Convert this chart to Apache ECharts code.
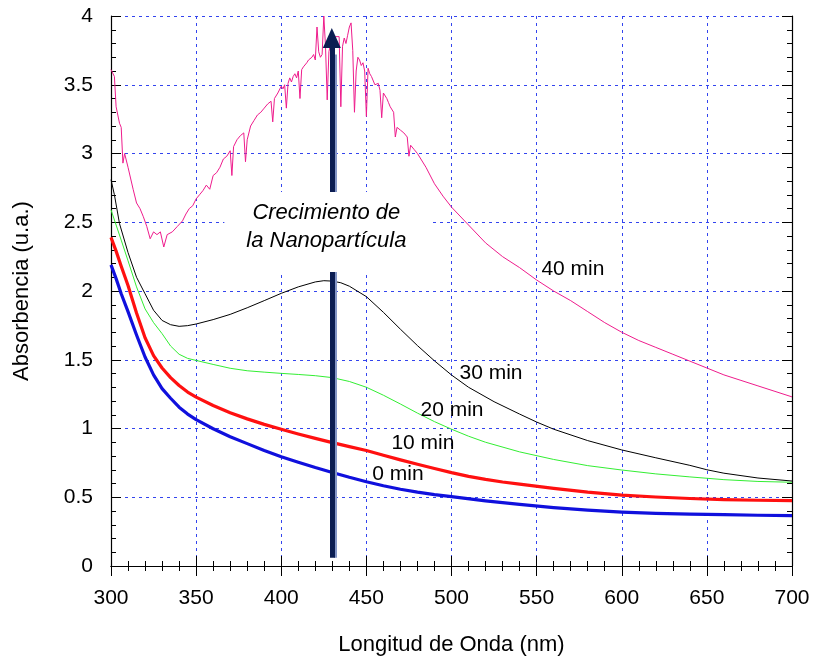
<!DOCTYPE html>
<html>
<head>
<meta charset="utf-8">
<script src="https://cdn.jsdelivr.net/npm/echarts@6/dist/echarts.min.js"></script>
<style>html,body{margin:0;padding:0;background:#fff}#c{width:817px;height:664px}</style>
</head>
<body>
<div id="c"></div>
<script>
// ---- data ----
const wl0 = [300,303,306,310,315,320,325,330,335,340,345,350,360,370,380,390,400,410,420,430,440,450,460,470,480,490,500,520,540,560,580,600,620,640,660,680,700];
const abs0 = [2.19,2.09,1.98,1.85,1.68,1.52,1.39,1.29,1.22,1.155,1.105,1.065,0.998,0.94,0.89,0.84,0.795,0.755,0.716,0.68,0.645,0.613,0.584,0.558,0.537,0.519,0.504,0.474,0.448,0.425,0.406,0.392,0.383,0.377,0.373,0.369,0.366];

const wl10 = [300,303,306,310,315,320,325,330,335,340,345,350,360,370,380,390,400,410,420,430,440,450,460,470,480,490,500,510,520,530,540,560,580,600,620,640,660,680,700];
const abs10 = [2.39,2.29,2.18,2.04,1.84,1.66,1.53,1.44,1.37,1.313,1.265,1.228,1.167,1.115,1.07,1.03,0.994,0.96,0.928,0.897,0.868,0.840,0.806,0.772,0.740,0.709,0.679,0.652,0.630,0.611,0.596,0.565,0.537,0.515,0.502,0.491,0.483,0.478,0.475];

const wl20 = [300,303,306,310,315,320,325,330,335,340,345,350,360,370,380,390,400,410,420,430,440,450,460,470,480,490,500,510,520,540,560,580,600,620,640,660,680,700];
const abs20 = [2.59,2.48,2.37,2.22,2.03,1.87,1.77,1.69,1.60,1.54,1.51,1.495,1.466,1.438,1.42,1.41,1.401,1.393,1.384,1.37,1.342,1.30,1.242,1.178,1.112,1.05,0.995,0.944,0.90,0.83,0.775,0.73,0.698,0.67,0.648,0.628,0.615,0.609];

const wl30 = [300,302,305,310,315,320,325,330,335,340,345,350,360,370,380,390,400,410,420,425,430,435,440,450,460,470,480,490,500,510,525,540,550,560,580,600,620,640,650,660,680,700];
const abs30 = [2.81,2.70,2.49,2.28,2.10,1.98,1.86,1.786,1.755,1.743,1.748,1.760,1.792,1.830,1.878,1.930,1.983,2.030,2.066,2.075,2.072,2.060,2.035,1.959,1.845,1.722,1.603,1.492,1.389,1.300,1.195,1.105,1.047,0.995,0.912,0.844,0.787,0.732,0.700,0.675,0.640,0.618];

const wl40 = [300,302,303,305,306,307,308,310,313,315,317,319,321,323,325,327,329,331,333,336,339,342,344,346,348,350,352,354,356,358,360,362,364,366,368,370,371,372,374,376,378,379,380,382,384,386,388,390,392,394,395,396,398,
  400,401,402,403,404,405,406,407,408,409,410,411,412,413,414,415,416,417,418,419,420,421,422,423,424,425,426,427,428,429,430,431,432,433,434,435,436,437,438,439,440,441,442,443,444,445,446,447,448,449,450,451,452,453,454,455,456,457,458,459,460,461,462,463,464,465,466,467,468,470,472,474,475,476,478,480,
  485,490,495,500,510,520,530,540,550,560,570,580,590,600,610,620,630,640,650,660,670,680,690,700];
const abs40 = [3.61,3.56,3.34,3.22,3.19,2.93,3.00,2.90,2.74,2.64,2.60,2.54,2.47,2.38,2.43,2.41,2.43,2.32,2.41,2.43,2.47,2.51,2.56,2.60,2.62,2.67,2.70,2.73,2.77,2.74,2.84,2.86,2.90,2.96,2.98,3.02,2.84,3.05,3.10,3.13,3.15,2.94,3.10,3.20,3.24,3.28,3.30,3.33,3.36,3.38,3.23,3.40,3.44,
  3.49,3.47,3.50,3.33,3.51,3.55,3.52,3.56,3.58,3.55,3.60,3.40,3.61,3.63,3.62,3.66,3.68,3.67,3.70,3.72,3.68,3.92,3.74,3.70,3.72,4.00,3.78,3.39,3.74,3.80,3.84,3.83,3.85,3.86,3.85,3.34,3.78,3.84,3.80,3.86,3.92,3.95,3.75,3.30,3.60,3.70,3.68,3.64,3.66,3.60,3.27,3.62,3.58,3.56,3.55,3.50,3.49,3.51,3.46,3.26,3.44,3.43,3.40,3.37,3.34,3.33,3.30,3.12,3.19,3.17,3.15,3.12,2.98,3.06,3.03,3.00,
  2.90,2.78,2.69,2.61,2.48,2.35,2.25,2.17,2.08,2.00,1.93,1.85,1.77,1.70,1.64,1.59,1.54,1.49,1.44,1.39,1.35,1.31,1.27,1.23];

const xTicks = {min:300, max:700, step:50};
const yTicks = {min:0, max:4, step:0.5};
const seriesNames = ['0 min','10 min','20 min','30 min','40 min'];
const arrowWl = 430, arrowFrom = 0.06, arrowTo = 3.84;

// ---- chart ----
const zip = (a,b) => a.map((x,i)=>[x,b[i]]);
const FONT = '"Liberation Sans", Arial, sans-serif';
const chart = echarts.init(document.getElementById('c'), null, {renderer:'canvas'});

const tickCommon = {
  axisLine:{show:true, lineStyle:{color:'#000', width:1.2}},
  axisTick:{show:true, inside:true, length:10, lineStyle:{color:'#000', width:1}},
  minorTick:{show:true, splitNumber:5, length:5, lineStyle:{color:'#000', width:1}},
};
const gridLine = {show:true, lineStyle:{color:'#3344ee', type:[3,4], width:1}};
const lineSeries = (name, wl, v, color, width) => ({name, type:'line', data:zip(wl,v), showSymbol:false,
  smooth:false, lineStyle:{color, width, join:'round'}, z:3});

chart.setOption({
  animation:false,
  backgroundColor:'#fff',
  grid:{left:111, right:25, top:16, bottom:98, containLabel:false},
  xAxis:[
    Object.assign({type:'value', min:xTicks.min, max:xTicks.max, interval:xTicks.step, position:'bottom',
      name:'Longitud de Onda (nm)', nameLocation:'middle', nameGap:68,
      nameTextStyle:{fontFamily:FONT, fontSize:22, color:'#000'},
      axisLabel:{fontFamily:FONT, fontSize:21, color:'#000', margin:22},
      splitLine:gridLine}, tickCommon),
    Object.assign({type:'value', min:xTicks.min, max:xTicks.max, interval:xTicks.step, position:'top',
      axisLabel:{show:false}, splitLine:{show:false}}, tickCommon)
  ],
  yAxis:[
    Object.assign({type:'value', min:yTicks.min, max:yTicks.max, interval:yTicks.step, position:'left',
      name:'Absorbencia (u.a.)', nameLocation:'middle', nameGap:78,
      nameTextStyle:{fontFamily:FONT, fontSize:22, color:'#000'},
      axisLabel:{fontFamily:FONT, fontSize:21, color:'#000', margin:18},
      splitLine:gridLine}, tickCommon),
    Object.assign({type:'value', min:yTicks.min, max:yTicks.max, interval:yTicks.step, position:'right',
      axisLabel:{show:false}, splitLine:{show:false}}, tickCommon)
  ],
  series:[
    lineSeries(seriesNames[0], wl0, abs0, '#1010dd', 3.2),
    lineSeries(seriesNames[1], wl10, abs10, '#ff1010', 3.2),
    lineSeries(seriesNames[2], wl20, abs20, '#33ee33', 1),
    lineSeries(seriesNames[3], wl30, abs30, '#000000', 1),
    {name:seriesNames[4], type:'line', data:zip(wl40,abs40), showSymbol:false, smooth:false, lineStyle:{color:'#ee1c8c', width:1}, z:3},
    {type:'line', data:[], z:5, silent:true,
      markLine:{silent:true, animation:false, label:{show:false}, symbol:['none','none'],
        lineStyle:{type:'solid', color:'#8496c6', width:3},
        data:[[{coord:[arrowWl+1.9, arrowFrom]},{coord:[arrowWl+1.9, arrowTo-0.12]}]]}},
    {type:'line', data:[], z:6, silent:true,
      markLine:{silent:true, animation:false, label:{show:false}, symbol:['none','triangle'], symbolSize:[18,20],
        lineStyle:{type:'solid', color:'#0b1d52', width:5},
        data:[[{coord:[arrowWl-0.3, arrowFrom]},{coord:[arrowWl-0.3, arrowTo]}]]}}
  ]
});

// annotations
const p = (x,y)=>chart.convertToPixel({xAxisIndex:0,yAxisIndex:0},[x,y]);
const boxC = p(426.5, 2.43);
const lbl = (txt, x, y) => ({type:'text', z:100, x:p(x,y)[0], y:p(x,y)[1],
  style:{text:txt, fontFamily:FONT, fontSize:21, fill:'#000', textAlign:'left', textVerticalAlign:'middle'}});
chart.setOption({graphic:[
  {type:'rect', z:90, shape:{x:boxC[0]-102, y:boxC[1]-40, width:205, height:80}, style:{fill:'#fff'}},
  {type:'text', z:100, x:boxC[0], y:boxC[1]-19, style:{text:'Crecimiento de', fontFamily:FONT, fontStyle:'italic', fontSize:22, fill:'#000', textAlign:'center', textVerticalAlign:'middle'}},
  {type:'text', z:100, x:boxC[0], y:boxC[1]+9, style:{text:'la Nanopartícula', fontFamily:FONT, fontStyle:'italic', fontSize:22, fill:'#000', textAlign:'center', textVerticalAlign:'middle'}},
  lbl('40 min', 552.8, 2.16),
  lbl('30 min', 504.7, 1.40),
  lbl('20 min', 481.8, 1.135),
  lbl('10 min', 464.7, 0.895),
  lbl('0 min', 453.5, 0.67)
]});
</script>
</body>
</html>
